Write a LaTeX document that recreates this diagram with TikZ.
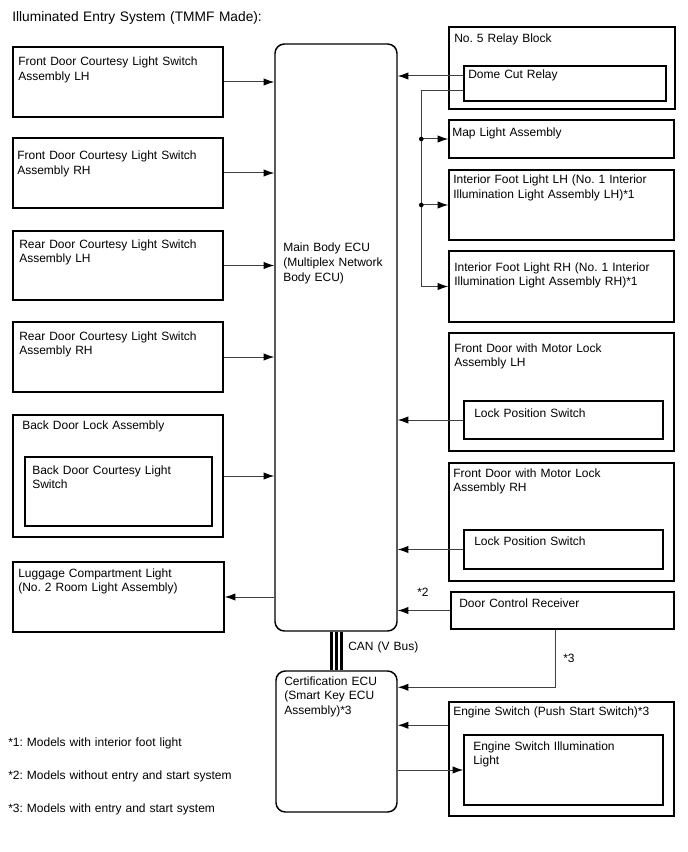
\documentclass[tikz,border=0pt]{standalone}
\usepackage{fontspec}
\setmainfont{Liberation Sans}
\usetikzlibrary{arrows.meta, calc, fit}
\frenchspacing

\tikzset{
  blk/.style={draw, line width=1.1pt, inner sep=0pt},
  ecu/.style={blk, rounded corners=7pt},
  txt/.style={anchor=base west, inner sep=0pt, align=left, text width=7cm,
    font=\fontsize{9}{10.9}\selectfont},
  arr/.style={line width=0.75pt, draw=black!75, -{Latex[length=8pt,width=5.5pt,color=black]}},
  wire/.style={line width=0.75pt, draw=black!75},
  can/.style={line width=2.3pt},
  dot/.style={circle, fill, inner sep=0pt, minimum size=3.5pt}
}

\begin{document}
\begin{tikzpicture}[x=0.75pt,y=-0.75pt]
  \useasboundingbox (0,0) rectangle (688,852);
  \node[txt, font=\fontsize{10.3}{12}\selectfont] (title) at (12,22) {Illuminated Entry System (TMMF Made):};

  % left column
  \node[blk, fit={(13,47) (223,117)}] (fdlh) {};
  \node[txt] (fdlh-t) at (18,66) {Front Door Courtesy Light Switch\\Assembly LH};
  \node[blk, fit={(13,138) (223,208)}] (fdrh) {};
  \node[txt] (fdrh-t) at (17,160) {Front Door Courtesy Light Switch\\Assembly RH};
  \node[blk, fit={(13,231) (223,300)}] (rdlh) {};
  \node[txt] (rdlh-t) at (19,248) {Rear Door Courtesy Light Switch\\Assembly LH};
  \node[blk, fit={(13,322) (223,392)}] (rdrh) {};
  \node[txt] (rdrh-t) at (19,340) {Rear Door Courtesy Light Switch\\Assembly RH};
  \node[blk, fit={(13,415) (223,537)}] (bdl) {};
  \node[txt] (bdl-t) at (22,429) {Back Door Lock Assembly};
  \node[blk, fit={(25,457) (212,526)}] (bdcs) {};
  \node[txt] (bdcs-t) at (32,474) {Back Door Courtesy Light\\Switch};
  \node[blk, fit={(13,562) (224,632)}] (lug) {};
  \node[txt] (lug-t) at (18,577) {Luggage Compartment Light\\(No. 2 Room Light Assembly)};

  % ECUs
  \node[ecu, fit={(275,44) (397,631)}] (mbe) {};
  \node[txt] (mbe-t) at (283,252) {Main Body ECU\\(Multiplex Network\\Body ECU)};
  \node[ecu, fit={(276,671) (397,812)}] (cert) {};
  \node[txt] (cert-t) at (284,685) {Certification ECU\\(Smart Key ECU\\Assembly)*3};

  % right column
  \node[blk, fit={(449,27) (675,109)}] (rb5) {};
  \node[txt] (rb5-t) at (454,43) {No. 5 Relay Block};
  \node[blk, fit={(464,66) (666,101)}] (dcr) {};
  \node[txt] (dcr-t) at (468,79) {Dome Cut Relay};
  \node[blk, fit={(449,120) (674,158)}] (map) {};
  \node[txt] (map-t) at (452,137) {Map Light Assembly};
  \node[blk, fit={(449,170) (674,240)}] (filh) {};
  \node[txt] (filh-t) at (453,184) {Interior Foot Light LH (No. 1 Interior\\Illumination Light Assembly LH)*1};
  \node[blk, fit={(449,251) (674,322)}] (firh) {};
  \node[txt] (firh-t) at (454,271) {Interior Foot Light RH (No. 1 Interior\\Illumination Light Assembly RH)*1};
  \node[blk, fit={(449,333) (674,451)}] (fml) {};
  \node[txt] (fml-t) at (454,352) {Front Door with Motor Lock\\Assembly LH};
  \node[blk, fit={(464,401) (663,439)}] (lpsl) {};
  \node[txt] (lpsl-t) at (474,417) {Lock Position Switch};
  \node[blk, fit={(449,463) (674,581)}] (fmr) {};
  \node[txt] (fmr-t) at (453,477) {Front Door with Motor Lock\\Assembly RH};
  \node[blk, fit={(464,530) (663,569)}] (lpsr) {};
  \node[txt] (lpsr-t) at (474,545) {Lock Position Switch};
  \node[blk, fit={(451,592) (674,629)}] (rcv) {};
  \node[txt] (rcv-t) at (459,607) {Door Control Receiver};
  \node[blk, fit={(449,702) (674,816)}] (ess) {};
  \node[txt] (ess-t) at (453,715) {Engine Switch (Push Start Switch)*3};
  \node[blk, fit={(464,735) (663,805)}] (esi) {};
  \node[txt] (esi-t) at (473,750) {Engine Switch Illumination\\Light};

  % notes
  \node[txt] (n1) at (8,746) {*1: Models with interior foot light};
  \node[txt] (n2) at (8,779) {*2: Models without entry and start system};
  \node[txt] (n3) at (8,812) {*3: Models with entry and start system};

  % inputs to main body ECU
  \draw[arr] (fdlh.east) -- (fdlh.east -| mbe.west);
  \draw[arr] (fdrh.east) -- (fdrh.east -| mbe.west);
  \draw[arr] (rdlh.east) -- (rdlh.east -| mbe.west);
  \draw[arr] (rdrh.east) -- (rdrh.east -| mbe.west);
  \draw[arr] (bdl.east) -- (bdl.east -| mbe.west);
  \draw[arr] (lug.east -| mbe.west) -- (lug.east);

  % dome cut relay and lights
  \coordinate (dcrout) at ($(dcr.west)+(0,-7.5)$);
  \coordinate (dcrfeed) at ($(dcr.west)+(0,7.5)$);
  \coordinate (tap) at ($(dcrfeed)+(-42,0)$);
  \draw[arr] (dcrout) -- (dcrout -| mbe.east);
  \draw[arr] (dcrfeed) -| (tap |- firh.west) -- (firh.west);
  \draw[arr] (tap |- map.west) -- (map.west);
  \draw[arr] (tap |- filh.west) -- (filh.west);
  \node[dot] (j1) at (tap |- map.west) {};
  \node[dot] (j2) at (tap |- filh.west) {};

  \draw[arr] (lpsl.west) -- (lpsl.west -| mbe.east);
  \draw[arr] (lpsr.west) -- (lpsr.west -| mbe.east);
  \draw[arr] (rcv.west) -- (rcv.west -| mbe.east);
  \node[txt] (s2) at (417,596) {*2};

  % receiver to certification ECU
  \coordinate (rcvdn) at ($(rcv.south west)+(105,0)$);
  \draw[arr] (rcvdn) |- ($(cert.north east)+(0,17)$);
  \node[txt] (s3) at (563,662) {*3};

  % engine switch
  \coordinate (essout) at ($(ess.north west)+(0,24)$);
  \draw[arr] (essout) -- (essout -| cert.east);
  \draw[arr] (esi.west -| cert.east) -- (esi.west);

  % CAN
  \draw[can] ($(mbe.south)+(-4.5,0)$) -- ($(cert.north)+(-5,0)$);
  \draw[can] ($(mbe.south)+(0.5,0)$) -- ($(cert.north)+(0,0)$);
  \draw[can] ($(mbe.south)+(5.5,0)$) -- ($(cert.north)+(5,0)$);
  \node[txt] (can-t) at (348,650) {CAN (V Bus)};
\end{tikzpicture}
\end{document}
